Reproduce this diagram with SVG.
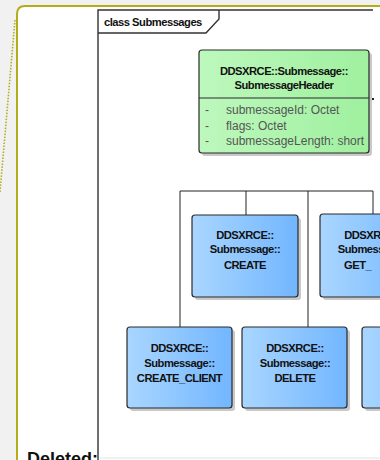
<svg xmlns="http://www.w3.org/2000/svg" width="380" height="460" viewBox="0 0 380 460">
<defs>
<linearGradient id="gGreen" x1="0" y1="0" x2="1" y2="0">
<stop offset="0" stop-color="#bdf8bd"/><stop offset="1" stop-color="#9ff09f"/>
</linearGradient>
<linearGradient id="gBlue" x1="0" y1="0" x2="1" y2="0">
<stop offset="0" stop-color="#a9d6ff"/><stop offset="1" stop-color="#72b6ff"/>
</linearGradient>
<style>
.shadow{fill:#c9c9c9}
.box{stroke:#2a2a2a;stroke-width:1.2}
.blue{fill:url(#gBlue)}
.green{fill:url(#gGreen)}
.t{font-family:"Liberation Sans",Arial,sans-serif;font-weight:bold;font-size:11.2px;letter-spacing:-0.5px;fill:#111;text-anchor:middle}
.a{font-family:"Liberation Sans",Arial,sans-serif;font-size:12px;fill:#555}
.conn{stroke:#222;stroke-width:1;fill:none}
.frame{stroke:#333;stroke-width:1.4;fill:none}
</style>
</defs>
<rect x="0" y="0" width="380" height="460" fill="#f1f1f1"/>
<g id="page">
<path d="M17,460 V14 Q17,6 25,6 H380 V460 Z" fill="#ffffff"/>
<path d="M17,460 V14 Q17,6 25,6 H380" fill="none" stroke="#b3ad1c" stroke-width="2"/>
<line x1="15" y1="20" x2="0" y2="192" stroke="#b3ad1c" stroke-width="1.6" stroke-dasharray="1.5,1.5"/>
</g>
<g id="frame">
<path class="frame" d="M98,460 V10 H373"/>
<path class="frame" d="M98,33 H206 L219,19 V10"/>
<text x="104" y="26" style="font-family:'Liberation Sans',Arial,sans-serif;font-weight:bold;font-size:11.2px;letter-spacing:-0.5px;fill:#111">class Submessages</text>
</g>
<g id="connectors">
<line class="conn" x1="369" y1="99" x2="374" y2="99" style="stroke-width:2"/>
<polyline class="conn" points="180,327 180,191 373,191 373,214"/>
<line class="conn" x1="246" y1="191" x2="246" y2="215"/>
<line class="conn" x1="308" y1="191" x2="308" y2="327"/>
</g>
<g id="SubmessageHeader">
<rect class="shadow" x="202" y="53" width="170" height="103" rx="3"/>
<rect class="box green" x="199" y="50" width="170" height="103" rx="3"/>
<line class="box" x1="199" y1="98" x2="369" y2="98"/>
<text class="t" x="284" y="75">DDSXRCE::Submessage::</text>
<text class="t" x="284" y="89">SubmessageHeader</text>
<text class="a" x="205" y="114">-</text>
<text class="a" x="226" y="114">submessageId: Octet</text>
<text class="a" x="205" y="129.5">-</text>
<text class="a" x="226" y="129.5">flags: Octet</text>
<text class="a" x="205" y="145">-</text>
<text class="a" x="226" y="145">submessageLength: short</text>
</g>
<g id="CREATE">
<rect class="shadow" x="195" y="218" width="106" height="82" rx="3"/>
<rect class="box blue" x="192" y="215" width="106" height="82" rx="3"/>
<text class="t" x="245" y="238.5">DDSXRCE::</text>
<text class="t" x="245" y="253">Submessage::</text>
<text class="t" x="245" y="268.5">CREATE</text>
</g>
<g id="GET">
<rect class="shadow" x="323" y="217" width="106" height="83" rx="3"/>
<rect class="box blue" x="320" y="214" width="106" height="83" rx="3"/>
<text class="t" x="373" y="238.5">DDSXRCE::</text>
<text class="t" x="373" y="253">Submessage::</text>
<text class="t" x="344" y="268.5" style="text-anchor:start">GET_</text>
</g>
<g id="CREATE_CLIENT">
<rect class="shadow" x="130" y="330" width="105" height="81" rx="3"/>
<rect class="box blue" x="127" y="327" width="105" height="81" rx="3"/>
<text class="t" x="179.5" y="351.5">DDSXRCE::</text>
<text class="t" x="179.5" y="366.5">Submessage::</text>
<text class="t" x="179.5" y="381.5">CREATE_CLIENT</text>
</g>
<g id="DELETE">
<rect class="shadow" x="245" y="330" width="105" height="81" rx="3"/>
<rect class="box blue" x="242" y="327" width="105" height="81" rx="3"/>
<text class="t" x="295" y="351.5">DDSXRCE::</text>
<text class="t" x="295" y="366.5">Submessage::</text>
<text class="t" x="295" y="381.5">DELETE</text>
</g>
<g id="Node3">
<rect class="shadow" x="365" y="330" width="105" height="81" rx="3"/>
<rect class="box blue" x="362" y="327" width="105" height="81" rx="3"/>
</g>
<line x1="100" y1="458" x2="380" y2="458" stroke="#e4e4e4" stroke-width="1"/>
<text x="27" y="465" style="font-family:'Liberation Sans',Arial,sans-serif;font-weight:bold;font-size:18px;fill:#111">Deleted:</text>
</svg>
